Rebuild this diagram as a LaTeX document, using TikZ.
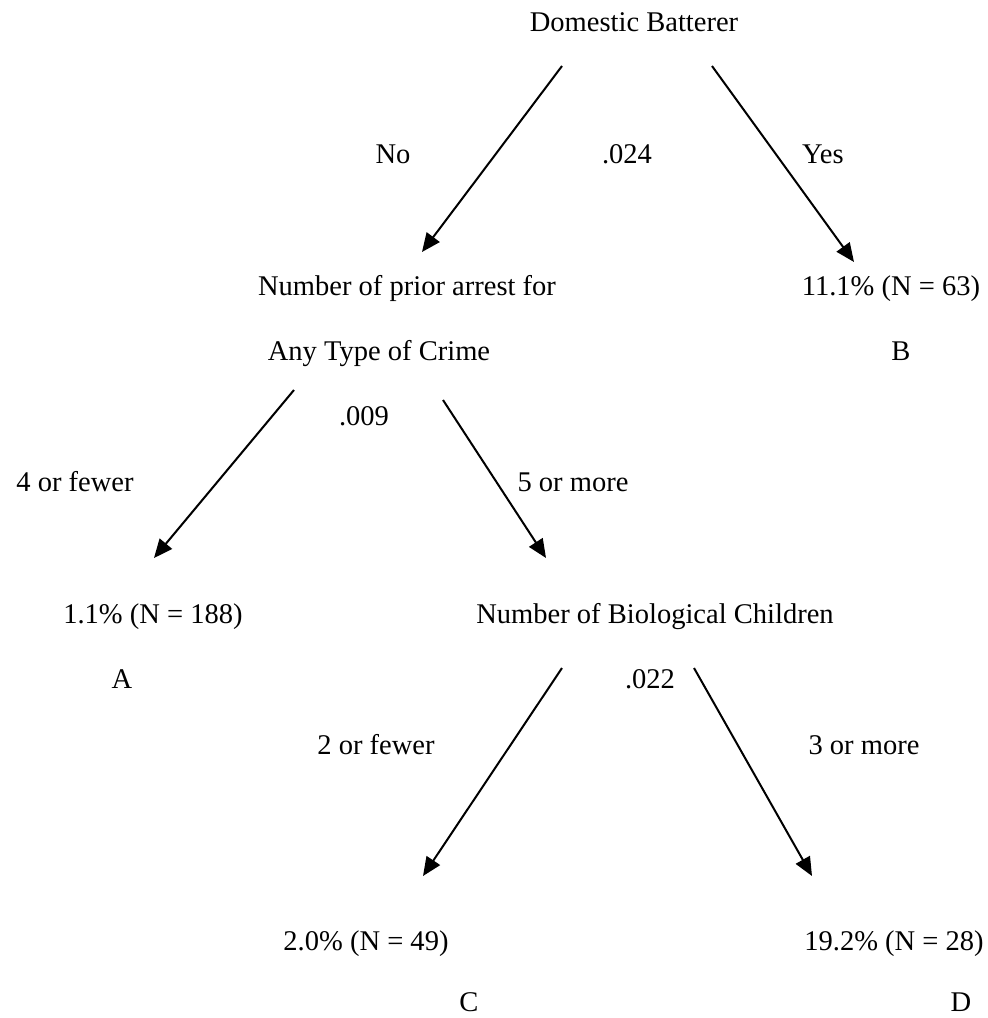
\documentclass[tikz,border=0pt]{standalone}
\usepackage{fontspec}
\setmainfont{Liberation Serif}
\usetikzlibrary{arrows.meta}
\begin{document}
\begin{tikzpicture}[x=0.75pt,y=-0.75pt,
  lbl/.style={anchor=base,inner sep=0pt,font=\fontsize{21.4pt}{25pt}\selectfont},
  conn/.style={line width=1.5pt,-{Triangle[length=14pt,width=12pt]}}]
\useasboundingbox[fill=white] (0,0) rectangle (988,1018);
% texts
\node[lbl] (dom) at (634,31) {Domestic Batterer};
\node[lbl] (no) at (393,163) {No};
\node[lbl] (p024) at (627,163) {.024};
\node[lbl] (yes) at (823,163) {Yes};
\node[lbl] (npa) at (407,295) {Number of prior arrest for};
\node[lbl] (b111) at (891,295) {11.1\% (N = 63)};
\node[lbl] (any) at (379,360) {Any Type of Crime};
\node[lbl] (lB) at (901,360) {B};
\node[lbl] (p009) at (364,425) {.009};
\node[lbl] (four) at (75,491) {4 or fewer};
\node[lbl] (five) at (573,491) {5 or more};
\node[lbl] (a11) at (153,623) {1.1\% (N = 188)};
\node[lbl] (nbc) at (655,623) {Number of Biological Children};
\node[lbl] (lA) at (122,688) {A};
\node[lbl] (p022) at (650,688) {.022};
\node[lbl] (two) at (376,754) {2 or fewer};
\node[lbl] (three) at (864,754) {3 or more};
\node[lbl] (c20) at (366,950) {2.0\% (N = 49)};
\node[lbl] (d192) at (894,950) {19.2\% (N = 28)};
\node[lbl] (lC) at (469,1011) {C};
\node[lbl] (lD) at (961,1011) {D};
% connector ends
\coordinate (s1) at (562,66);  \coordinate (t1) at (422,252);
\coordinate (s2) at (712,66);  \coordinate (t2) at (854,262);
\coordinate (s3) at (294,390); \coordinate (t3) at (154,558);
\coordinate (s4) at (443,400); \coordinate (t4) at (546,558);
\coordinate (s5) at (562,668); \coordinate (t5) at (423,876);
\coordinate (s6) at (694,668); \coordinate (t6) at (812,876);
\draw[conn] (s1) -- (t1);
\draw[conn] (s2) -- (t2);
\draw[conn] (s3) -- (t3);
\draw[conn] (s4) -- (t4);
\draw[conn] (s5) -- (t5);
\draw[conn] (s6) -- (t6);
\end{tikzpicture}
\end{document}
